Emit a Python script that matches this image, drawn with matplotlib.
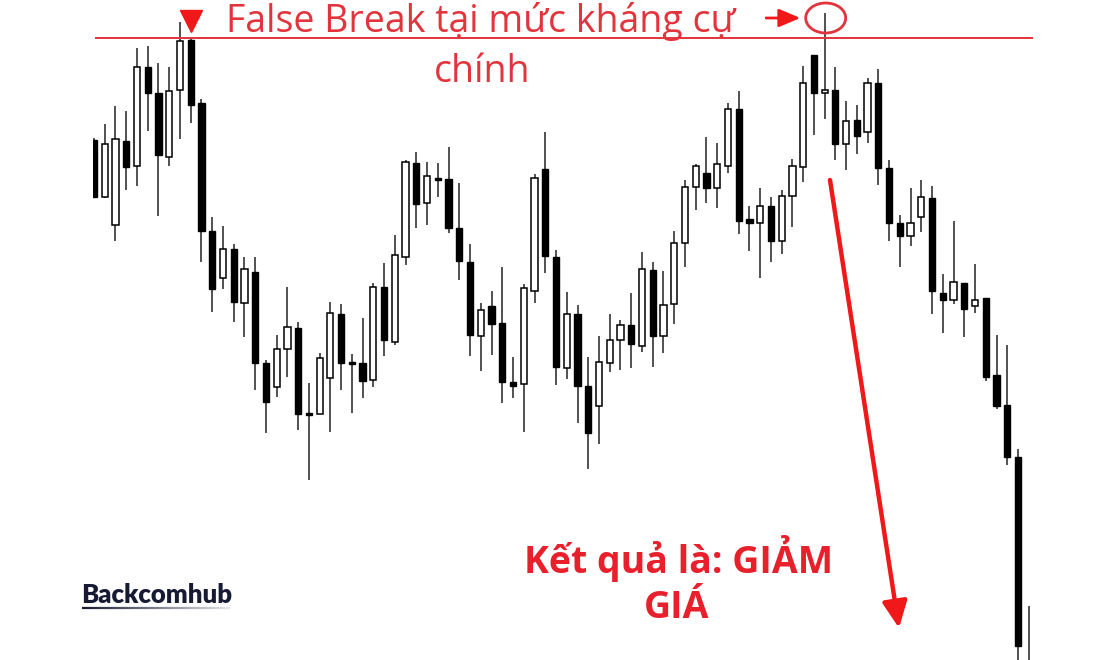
import numpy as np
import matplotlib
matplotlib.use("Agg")
import matplotlib.pyplot as plt
from matplotlib.patches import Ellipse
from matplotlib.collections import LineCollection

# candle prices (arbitrary price units)
opens = [520, 463, 435, 519, 494, 593, 567, 503, 570, 620,
         557, 429, 382, 411, 357, 388, 297, 273, 311, 332,
         247, 246, 282, 346, 298, 297, 280, 373, 318, 403,
         497, 457, 482, 481, 432, 398, 324, 354, 337, 278,
         276, 369, 491, 403, 292, 346, 274, 254, 297, 320,
         335, 314, 390, 324, 356, 417, 473, 487, 472, 494,
         551, 441, 437, 454, 419, 464, 493, 605, 567, 570,
         516, 540, 528, 577, 492, 437, 424, 443, 462, 367,
         360, 377, 354, 362, 285, 255, 203, -20]
highs = [522, 536, 554, 549, 612, 614, 597, 593, 638, 622,
         561, 443, 434, 416, 403, 403, 300, 325, 373, 338,
         277, 307, 358, 356, 306, 342, 377, 397, 425, 500,
         508, 498, 497, 513, 477, 416, 357, 369, 393, 303,
         376, 486, 528, 410, 368, 355, 303, 324, 346, 340,
         367, 408, 398, 389, 429, 480, 496, 523, 517, 557,
         569, 454, 472, 463, 470, 501, 594, 605, 647, 593,
         559, 555, 582, 591, 500, 445, 472, 480, 474, 386,
         439, 377, 396, 362, 325, 315, 211, 54]
lows = [463, 462, 419, 470, 474, 529, 444, 494, 521, 537,
        398, 348, 371, 338, 323, 270, 227, 263, 283, 230,
        180, 246, 228, 270, 247, 262, 273, 304, 315, 395,
        432, 435, 463, 427, 380, 304, 289, 305, 257, 262,
        228, 357, 387, 275, 281, 237, 191, 216, 288, 290,
        292, 308, 293, 307, 336, 393, 450, 457, 452, 487,
        426, 409, 382, 398, 406, 433, 478, 525, 541, 500,
        490, 506, 517, 475, 419, 393, 414, 428, 346, 327,
        356, 323, 347, 279, 251, 195, -5, -60]
closes = [463, 516, 521, 493, 593, 567, 505, 569, 619, 555,
          429, 371, 411, 358, 391, 297, 258, 311, 333, 246,
          245, 302, 347, 297, 296, 279, 373, 320, 405, 498,
          456, 484, 480, 432, 399, 325, 350, 336, 278, 274,
          372, 482, 404, 293, 346, 274, 227, 298, 320, 335,
          316, 391, 324, 355, 417, 473, 494, 472, 496, 551,
          439, 437, 454, 419, 464, 494, 577, 567, 570, 516,
          539, 524, 577, 492, 437, 424, 437, 463, 369, 360,
          378, 351, 360, 283, 254, 203, 14, -40]

resistance = 622
false_break_bar = 68
top_marker_bar = 9

title_text = "False Break tại mức kháng cự\nchính"
result_text = "Kết quả là: GIẢM\nGIÁ"
logo_text = "Backcomhub"

red_thin = "#e2343c"
red_bold = "#e8202c"

fig = plt.figure(figsize=(11, 6.6), dpi=100)
# chart picture is cropped on the left at ~93px and ends at ~1035px
ax = fig.add_axes([93 / 1100, 0, (1035 - 93) / 1100, 1])
ax.set_xlim(-0.093, 87.58)
ax.set_ylim(0, 660)
ax.axis("off")

x = np.arange(len(opens))
o = np.array(opens)
c = np.array(closes)
up = c >= o

ax.vlines(x, lows, highs, color="#333333", linewidth=1.2, zorder=2)
ax.bar(x[up], (c - o)[up], bottom=o[up], width=0.58,
       facecolor="white", edgecolor="black", linewidth=1.1, zorder=3)
ax.bar(x[~up], np.maximum((o - c)[~up], 1.5), bottom=c[~up], width=0.58,
       facecolor="black", edgecolor="black", linewidth=1.0, zorder=3)

# resistance line
ax.hlines(resistance, 0.09, 87.4, color=red_thin, linewidth=1.4, zorder=4)

# overlay in pixel coordinates for the annotations
ov = fig.add_axes([0, 0, 1, 1], facecolor="none")
ov.set_xlim(0, 1100)
ov.set_ylim(660, 0)
ov.axis("off")

fam = ["Open Sans", "DejaVu Sans"]
lines = title_text.split("\n")
ov.text(481, 32, lines[0], color=red_thin, fontsize=27, family=fam,
        ha="center", va="baseline")
ov.text(482, 82, lines[1], color=red_thin, fontsize=27, family=fam,
        ha="center", va="baseline")

rl = result_text.split("\n")
ov.text(679, 573, rl[0], color=red_bold, fontsize=27, family=fam,
        fontweight="bold", ha="center", va="baseline")
ov.text(677, 618, rl[1], color=red_bold, fontsize=27, family=fam,
        fontweight="bold", ha="center", va="baseline")

# marker over the first top
ax.plot([top_marker_bar], [resistance + 17], marker="v", markersize=16,
        color="#f01818", zorder=5, clip_on=False)

# circle around the false break wick
cx = false_break_bar
ax.add_patch(Ellipse((cx + 0.1, highs[cx] - 5), 40 / 10.744, 30,
                     fill=False, edgecolor=red_thin, linewidth=2.0, zorder=5))
ax.annotate("", xy=(cx - 2.0, highs[cx] - 5), xytext=(cx - 5.7, highs[cx] - 5),
            arrowprops=dict(arrowstyle="-|>,head_length=1.3,head_width=0.55",
                            color="#f01818", lw=2.0), zorder=5)

# big down arrow
ov.annotate("", xy=(899, 628), xytext=(830, 180),
            arrowprops=dict(arrowstyle="-|>,head_length=1.6,head_width=0.75",
                            color="#f01818", lw=3.2, shrinkA=0, shrinkB=0))

# logo
ov.text(81, 603, logo_text, color="#161b33", fontsize=18.5,
        family=["Lato", "DejaVu Sans"], fontweight="heavy",
        ha="left", va="baseline")
gx = np.linspace(82, 230, 40)
segs = [[(gx[i], 607.5), (gx[i + 1], 607.5)] for i in range(len(gx) - 1)]
cols = [(0.09, 0.11, 0.2, 1 - 0.9 * i / len(segs)) for i in range(len(segs))]
ov.add_collection(LineCollection(segs, colors=cols, linewidths=1.6))

fig.savefig("out.png", dpi=100, facecolor="white")
